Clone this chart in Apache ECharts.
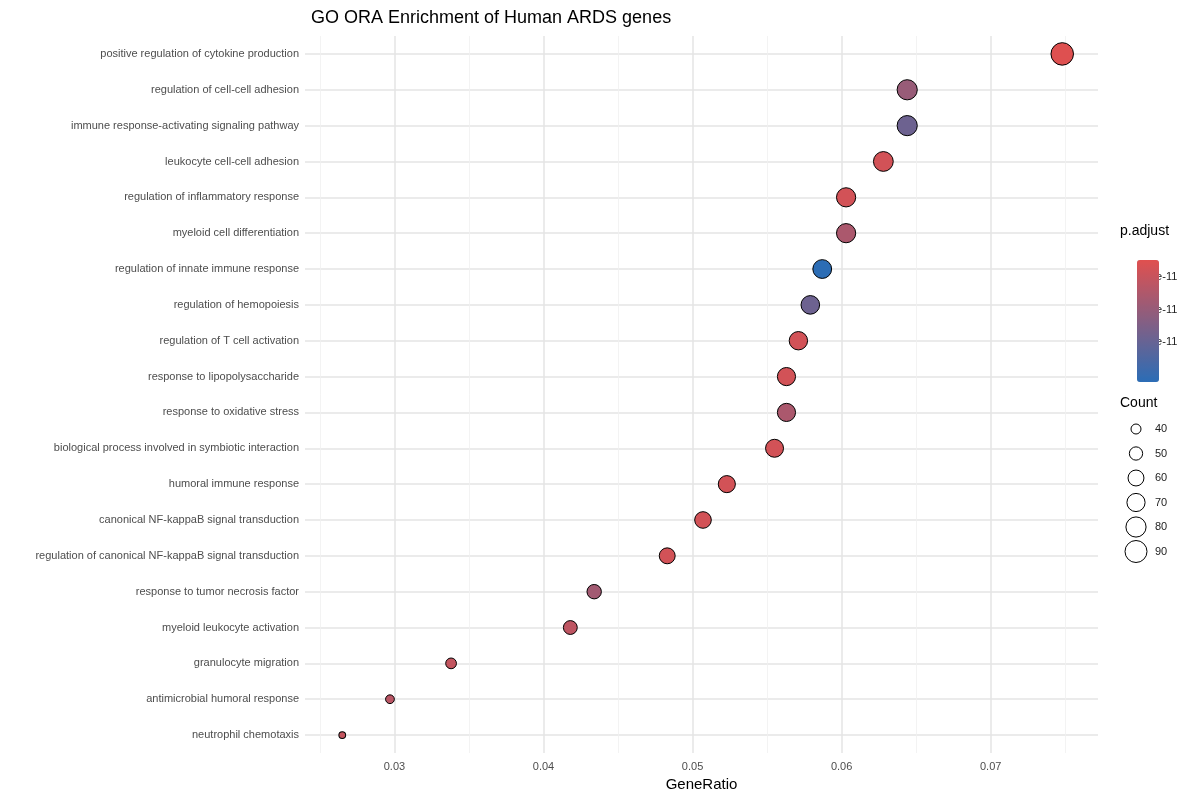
<!DOCTYPE html>
<html><head><meta charset="utf-8">
<script src="https://cdn.jsdelivr.net/npm/echarts@6/dist/echarts.min.js"></script>
<style>html,body{margin:0;padding:0;background:#fff}#c{width:1200px;height:800px}</style>
</head><body><div id="c"></div>
<script>
const terms = ["positive regulation of cytokine production","regulation of cell-cell adhesion","immune response-activating signaling pathway","leukocyte cell-cell adhesion","regulation of inflammatory response","myeloid cell differentiation","regulation of innate immune response","regulation of hemopoiesis","regulation of T cell activation","response to lipopolysaccharide","response to oxidative stress","biological process involved in symbiotic interaction","humoral immune response","canonical NF-kappaB signal transduction","regulation of canonical NF-kappaB signal transduction","response to tumor necrosis factor","myeloid leukocyte activation","granulocyte migration","antimicrobial humoral response","neutrophil chemotaxis"];
const geneRatio = [0.0748,0.0644,0.0644,0.0628,0.0603,0.0603,0.0587,0.0579,0.0571,0.0563,0.0563,0.0555,0.0523,0.0507,0.0483,0.0434,0.0418,0.0338,0.0297,0.0265];
const counts = [93,80,80,78,75,75,73,72,71,70,70,69,65,63,60,54,52,42,37,33];
const padj = [0.05e-11,1.5e-11,2.4e-11,0.3e-11,0.3e-11,1.1e-11,3.75e-11,2.4e-11,0.3e-11,0.3e-11,1.1e-11,0.3e-11,0.3e-11,0.3e-11,0.3e-11,1.3e-11,0.7e-11,0.6e-11,0.8e-11,0.6e-11];
const xTicks = [0.03,0.04,0.05,0.06,0.07];
const xMinor = [0.025,0.035,0.045,0.055,0.065,0.075];
const padjTicks = [1e-11,2e-11,3e-11];
const padjTickLabels = ["1e-11","2e-11","3e-11"];
const countBreaks = [40,50,60,70,80,90];

const PMAX = 3.78e-11;
const sz = c => Math.sqrt(Math.max(100 + (c - 40) * 7.68, 16));
const idx = terms.map((_, i) => i);
const data = terms.map((t, i) => [geneRatio[i], i, padj[i], counts[i]]);

const graphic = [];
padjTicks.forEach((v, i) => {
  const y = 245 + v / PMAX * 122;
  graphic.push({type:'line', shape:{x1:1122,y1:y,x2:1126,y2:y}, style:{stroke:'#fff',lineWidth:1}});
  graphic.push({type:'line', shape:{x1:1140,y1:y,x2:1144,y2:y}, style:{stroke:'#fff',lineWidth:1}});
  graphic.push({type:'text', x:1150, y:y, style:{text:padjTickLabels[i], fill:'#222', font:'11px Liberation Sans, Arial', verticalAlign:'middle'}});
});
graphic.push({type:'text', x:1120, y:224, style:{text:'p.adjust', fill:'#000', font:'14px Liberation Sans, Arial'}});
graphic.push({type:'text', x:1120, y:396, style:{text:'Count', fill:'#000', font:'14px Liberation Sans, Arial'}});
let yy = 418;
countBreaks.forEach((c, i) => {
  const d = sz(c);
  const cy = 429 + i * 24.5;
  graphic.push({type:'circle', shape:{cx:1136, cy:cy, r:d/2}, style:{fill:'#fff', stroke:'#000', lineWidth:1}});
  graphic.push({type:'text', x:1155, y:cy, style:{text:String(c), fill:'#222', font:'11px Liberation Sans, Arial', verticalAlign:'middle'}});
});

const chart = echarts.init(document.getElementById('c'));
chart.setOption({
  backgroundColor:'#fff',
  animation:false,
  title:{text:'GO ORA Enrichment of Human ARDS genes', left:306, top:4, textStyle:{fontSize:18, fontWeight:'normal', color:'#000', fontFamily:'Liberation Sans, Arial'}},
  grid:{left:305, right:102, top:36, bottom:47},
  xAxis:[{
    type:'value', min:0.024, max:0.0772,
    name:'GeneRatio', nameLocation:'middle', nameGap:24,
    nameTextStyle:{fontSize:15, color:'#000', fontFamily:'Liberation Sans, Arial'},
    axisLine:{show:false}, axisTick:{show:false, customValues:xTicks},
    axisLabel:{customValues:xTicks, color:'#4d4d4d', fontSize:11, margin:8, fontFamily:'Liberation Sans, Arial'},
    splitLine:{show:true, lineStyle:{color:'#e5e5e5', width:1.5}}
  },{
    type:'value', min:0.024, max:0.0772, position:'bottom',
    axisLine:{show:false}, axisTick:{show:false, customValues:xMinor},
    axisLabel:{show:false, customValues:xMinor},
    splitLine:{show:true, lineStyle:{color:'#f0f0f0', width:0.8}}
  }],
  yAxis:{
    type:'value', min:-0.5, max:19.5, inverse:true,
    axisLine:{show:false}, axisTick:{show:false, customValues:idx},
    axisLabel:{customValues:idx, formatter:v => terms[Math.round(v)] || '', color:'#4d4d4d', fontSize:11, margin:6, fontFamily:'Liberation Sans, Arial'},
    splitLine:{show:true, lineStyle:{color:'#e5e5e5', width:1.5}}
  },
  visualMap:{
    type:'continuous', dimension:2, min:0, max:PMAX, inverse:true,
    left:1122, top:245, itemWidth:22, itemHeight:122, calculable:false, showLabel:false,
    text:['',''], seriesIndex:0,
    inRange:{color:['#E0504F','#2B6DB6']}
  },
  series:[{
    type:'scatter', data:data, xAxisIndex:0,
    symbolSize:v => sz(v[3]),
    itemStyle:{borderColor:'#000', borderWidth:1, opacity:1}
  }],
  graphic:graphic
});
</script></body></html>
